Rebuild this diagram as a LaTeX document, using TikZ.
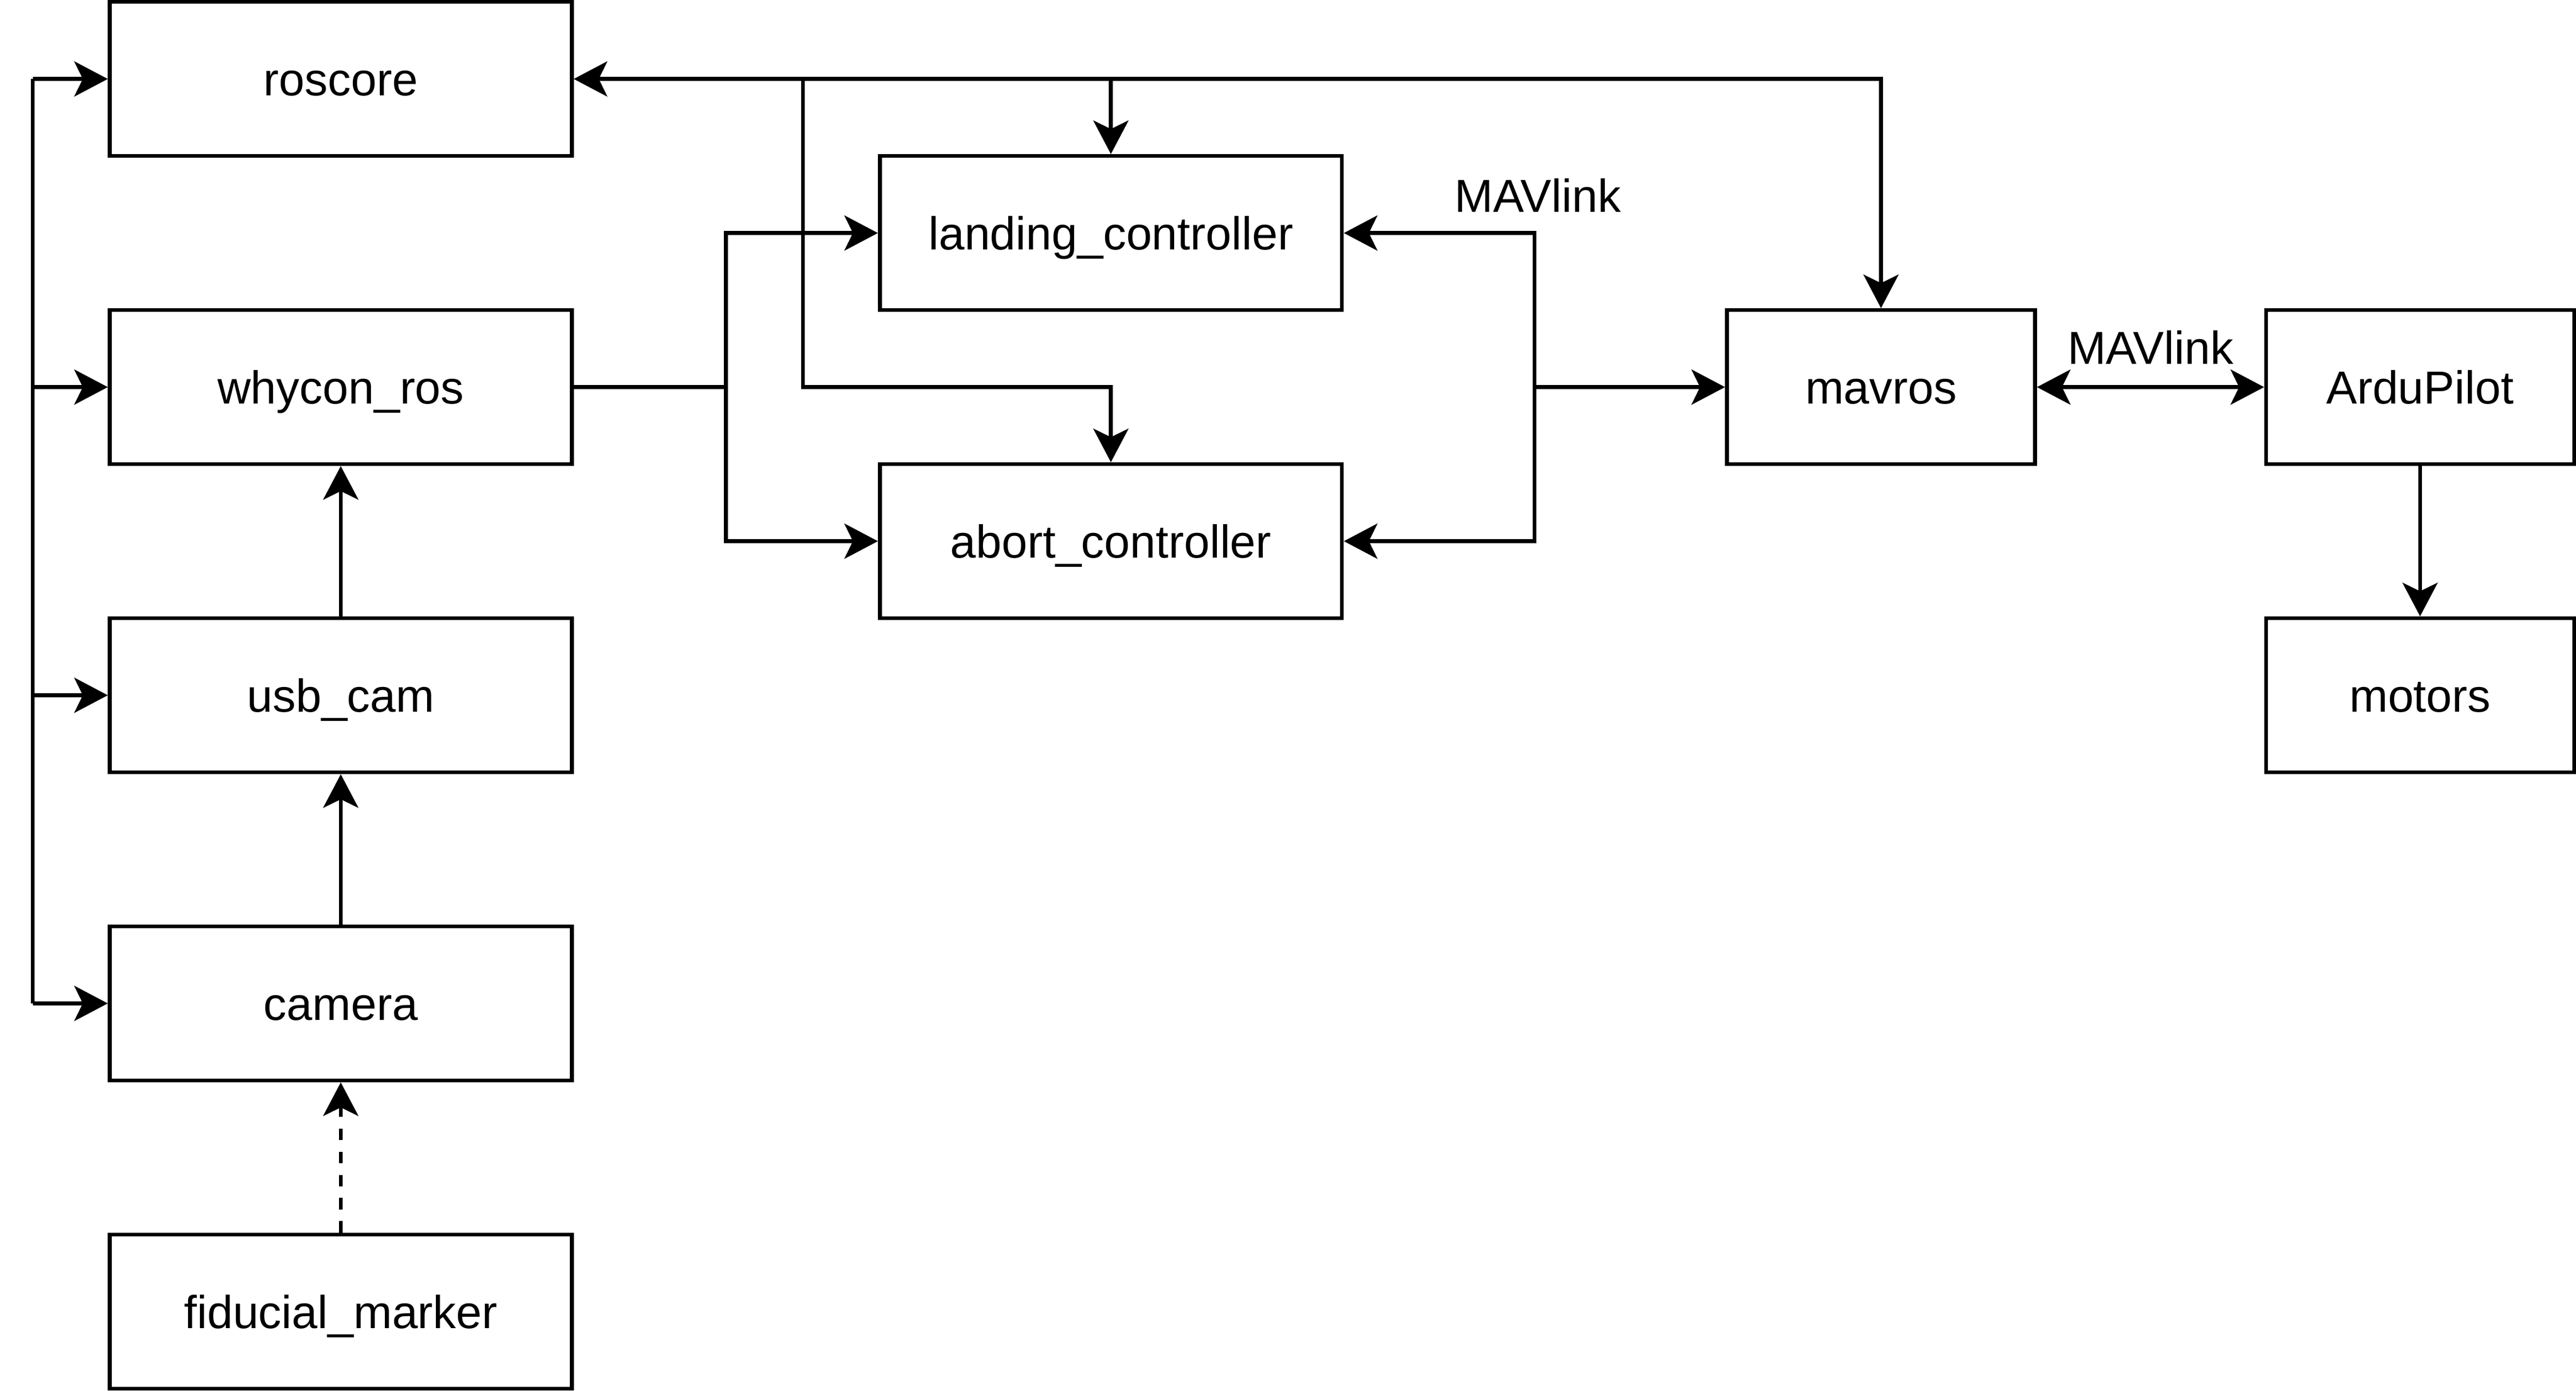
\documentclass[tikz,border=0pt]{standalone}
\usepackage{fontspec}
\setmainfont{Liberation Sans}
\usetikzlibrary{arrows.meta,positioning}

\tikzset{
    >={Stealth[length=8.7pt,width=9.1pt,inset=2.2pt]},
    box/.style={draw, minimum width=120pt, minimum height=40pt, inner sep=0pt,
                text height=8.6pt, text depth=0pt},
    smallbox/.style={box, minimum width=80pt},
    lbl/.style={inner sep=0pt, text height=8.6pt, text depth=0pt},
}

\begin{document}
\begin{tikzpicture}[x=1pt,y=-1pt,line width=1pt,font=\fontsize{12pt}{14pt}\selectfont]
    \useasboundingbox (0,0) rectangle (669,361);

    % Nodes:
    % The ROS side sits in the left column, controllers in the middle:
    \node[box] (roscore)  at (88.5,20.5)  {roscore};
    \node[box] (whycon)   at (88.5,100.5) {whycon\_ros};
    \node[box] (usbcam)   at (88.5,180.5) {usb\_cam};
    \node[box] (camera)   at (88.5,260.5) {camera};
    \node[box] (fiducial) at (88.5,340.5) {fiducial\_marker};

    \node[box] (landing) at (288.5,60.5)  {landing\_controller};
    \node[box] (abort)   at (288.5,140.5) {abort\_controller};

    \node[smallbox] (mavros)    at (488.5,100.5) {mavros};
    \node[smallbox] (ardupilot) at (628.5,100.5) {ArduPilot};
    \node[smallbox] (motors)    at (628.5,180.5) {motors};

    % Bus lines:
    \coordinate (lbus) at (8.5,0);
    \coordinate (wbus) at (188.5,0);
    \coordinate (rbranch) at (208.5,0);
    \coordinate (rbus) at (398.5,0);

    % left bus into the ROS nodes
    \draw (lbus |- roscore) -- (lbus |- camera);
    \draw [->] (lbus |- roscore) -- (roscore);
    \draw [->] (lbus |- whycon) -- (whycon);
    \draw [->] (lbus |- usbcam) -- (usbcam);
    \draw [->] (lbus |- camera) -- (camera);

    % roscore to mavros and the controllers
    \draw [<->] (roscore.east) -| (mavros.north);
    \draw [->] (roscore -| landing) -- (landing);
    \draw [->] (rbranch |- roscore) -- (rbranch |- whycon) -| (abort);

    % whycon_ros to the controllers
    \draw (whycon.east) -- (wbus |- whycon);
    \draw [->] (wbus |- whycon) |- (landing);
    \draw [->] (wbus |- whycon) |- (abort);

    % MAVlink side
    \draw [->] (rbus |- mavros) -- (mavros);
    \draw [->] (rbus |- mavros) |- (landing);
    \draw [->] (rbus |- mavros) |- (abort);
    \node[lbl] (mavlinkA) at (399.4,50.8) {MAVlink};

    \draw [<->] (mavros) -- (ardupilot) node[lbl, midway, above=5.5pt] (mavlinkB) {MAVlink};
    \draw [->] (ardupilot) -- (motors);

    % camera chain
    \draw [->] (usbcam) -- (whycon);
    \draw [->] (camera) -- (usbcam);
    \draw [->, dash pattern=on 3pt off 3pt] (fiducial) -- (camera);
\end{tikzpicture}
\end{document}
